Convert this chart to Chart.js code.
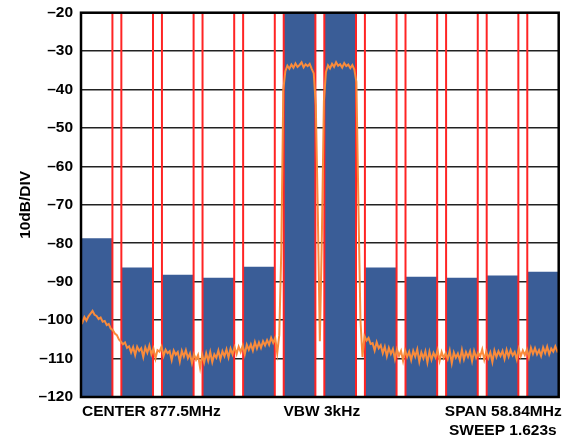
<!DOCTYPE html>
<html><head><meta charset="utf-8">
<script src="https://cdn.jsdelivr.net/npm/chart.js@4.4.1/dist/chart.umd.min.js"></script>
<style>html,body{margin:0;padding:0;background:#fff}#wrap{width:578px;height:439px}</style>
</head><body><div id="wrap"><canvas id="c" width="578" height="439"></canvas></div>
<script>
// Channel centres (MHz) and measured channel power levels (dBm)
const channelCenters = [850, 855, 860, 865, 870, 875, 880, 885, 890, 895, 900, 905];
const channelLevels  = [-78.7, -86.3, -88.2, -89.0, -86.1, -20, -20, -86.3, -88.7, -89.0, -88.4, -87.4];
const channelWidth = 3.9; // MHz integration bandwidth
const channelSpacing = 5; // MHz

// Axis
const yTicks = [-20, -30, -40, -50, -60, -70, -80, -90, -100, -110, -120];
const freqMin = 848.08, freqMax = 906.92;
const yTitle = '10dB/DIV';
const centerLabel = 'CENTER 877.5MHz';
const vbwLabel = 'VBW 3kHz';
const spanLabel = 'SPAN 58.84MHz';
const sweepLabel = 'SWEEP 1.623s';

// Spectrum trace: sweep start / step (MHz) and levels (dB)
const traceStart = 848.0, traceStep = 0.25;
const traceLevels = [
 -99.8,-100.6,-99.2,-100.1,   -99.0,-98.3,-97.6,-98.6,
 -98.9,-99.7,-99.3,-100.4,    -100.2,-101.3,-101.0,-102.2,
 -102.6,-103.5,-103.9,-105.0, -105.6,-106.3,-105.8,-107.2,
 -106.8,-108.4,-107.0,-109.1, -106.9,-108.0,-107.3,-109.6,
 -107.1,-108.5,-106.6,-108.9, -107.4,-110.0,-107.8,-108.2,
 -106.9,-109.3,-107.7,-108.6, -108.1,-110.4,-107.9,-109.0,
 -108.3,-110.8,-108.0,-109.5, -107.8,-109.9,-108.7,-111.2,
 -108.9,-110.3,-109.1,-112.4, -109.0,-111.0,-108.6,-110.6,
 -108.3,-110.9,-108.9,-109.8, -107.9,-110.2,-108.1,-109.4,
 -107.6,-109.7,-107.4,-108.9, -107.0,-108.8,-106.9,-108.3,
 -106.6,-108.9,-106.4,-107.7, -106.3,-107.9,-105.7,-107.4,
 -105.8,-107.2,-105.5,-106.6, -105.2,-106.4,-104.6,-105.9,
 -104.6,-108.6,-103.9,-82.0,  -40.0,-35.2,-33.8,-34.6,
 -33.5,-34.3,-33.2,-34.1,     -33.6,-32.9,-34.2,-33.4,
 -33.9,-33.3,-34.6,-35.8,     -44.0,-72.0,-105.5,-78.0,
 -43.0,-35.4,-33.7,-34.5,     -33.3,-34.1,-32.9,-33.8,
 -33.4,-34.3,-33.1,-33.9,     -33.5,-34.4,-33.6,-34.8,
 -38.0,-70.0,-100.0,-109.6,   -104.2,-105.3,-104.6,-106.2,
 -106.0,-107.9,-105.7,-107.3, -106.5,-108.6,-106.9,-109.4,
 -107.2,-108.8,-107.5,-110.1, -107.6,-109.3,-108.0,-110.6,
 -107.9,-109.6,-108.2,-110.4, -108.0,-109.5,-107.6,-110.8,
 -108.4,-109.9,-108.1,-111.0, -108.2,-110.3,-108.5,-109.7,
 -107.8,-110.6,-108.3,-109.9, -108.6,-110.1,-107.9,-111.2,
 -108.4,-109.8,-108.7,-110.5, -107.7,-110.2,-108.3,-109.6,
 -108.1,-110.7,-108.0,-109.8, -108.5,-109.4,-107.6,-110.3,
 -108.2,-109.9,-108.4,-110.9, -107.9,-109.6,-108.1,-109.3,
 -108.0,-110.1,-107.7,-109.5, -107.8,-109.2,-108.3,-110.2,
 -107.5,-109.4,-107.9,-109.1, -107.6,-109.7,-107.2,-108.8,
 -107.3,-108.9,-107.8,-109.3, -107.1,-108.6,-106.9,-108.9,
 -107.4,-108.2,-106.8,-108.1, -107.5
];

const barData = channelCenters.map((c, i) => ({x: c, y: [yTicks[yTicks.length-1], channelLevels[i]]}));
const edgeData = [];
channelCenters.forEach(c => {
  [c - channelWidth/2, c + channelWidth/2].forEach(e => {
    edgeData.push({x: e, y: yTicks[yTicks.length-1]}, {x: e, y: yTicks[0]}, {x: e, y: null});
  });
});
const traceData = traceLevels.map((v, i) => ({x: traceStart + i * traceStep, y: v}));

const FONT = '"Liberation Sans", Arial, sans-serif';
const decor = {
  id: 'decor',
  afterDraw(chart) {
    const {ctx, chartArea: a} = chart;
    ctx.save();
    ctx.strokeStyle = '#000';
    ctx.lineWidth = 2.5;
    ctx.strokeRect(a.left, a.top, a.right - a.left, a.bottom - a.top);
    ctx.fillStyle = '#000';
    ctx.font = 'bold 15.5px ' + FONT;
    ctx.textBaseline = 'alphabetic';
    ctx.textAlign = 'left';
    ctx.fillText(centerLabel, a.left + 1, a.bottom + 19);
    ctx.textAlign = 'center';
    ctx.fillText(vbwLabel, (a.left + a.right) / 2 + 2, a.bottom + 19);
    ctx.textAlign = 'right';
    ctx.fillText(spanLabel, a.right + 3, a.bottom + 19);
    ctx.fillText(sweepLabel, a.right - 2, a.bottom + 38);
    ctx.restore();
  }
};

new Chart(document.getElementById('c'), {
  type: 'bar',
  data: {
    datasets: [
      {type: 'line', data: traceData, borderColor: '#f98b3b', borderWidth: 2, pointRadius: 0, tension: 0, order: 1},
      {type: 'line', data: edgeData, borderColor: '#ff2424', borderWidth: 2, pointRadius: 0, tension: 0, spanGaps: false, order: 2},
      {type: 'bar', data: barData, backgroundColor: '#3a5d97', borderWidth: 0, categoryPercentage: 1, barPercentage: channelWidth / channelSpacing, order: 3}
    ]
  },
  options: {
    responsive: false,
    animation: false,
    devicePixelRatio: 1,
    layout: {padding: {left: 0, right: 19.3, top: 12.7, bottom: 42}},
    plugins: {legend: {display: false}, tooltip: {enabled: false}},
    scales: {
      x: {
        type: 'linear', display: false, offset: false, min: freqMin, max: freqMax,
        ticks: {stepSize: channelSpacing, includeBounds: false}
      },
      y: {
        type: 'linear', position: 'left',
        min: yTicks[yTicks.length-1], max: yTicks[0],
        afterBuildTicks: s => { s.ticks = yTicks.map(v => ({value: v})); },
        afterFit: s => { s.width = 81; s.paddingTop = 0; s.paddingBottom = 0; },
        ticks: {
          color: '#000', padding: 8,
          font: {family: FONT, size: 15.5, weight: 'bold'},
          callback: v => (v < 0 ? '\u2013' : '') + Math.abs(v)
        },
        grid: {color: '#222', lineWidth: 1.6, drawTicks: false},
        border: {display: false},
        title: {display: true, text: yTitle, color: '#000', padding: {top: 16, bottom: 0},
                font: {family: FONT, size: 15.5, weight: 'bold'}}
      }
    }
  },
  plugins: [decor]
});
</script>
</body></html>
